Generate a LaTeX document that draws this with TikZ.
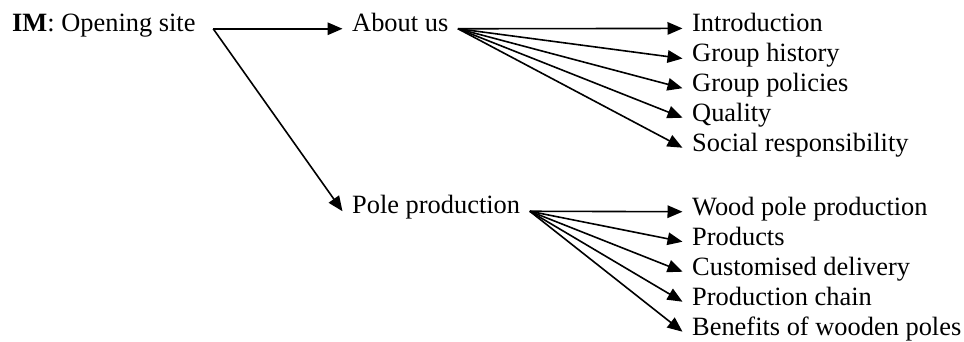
\documentclass[tikz,border=0pt]{standalone}
\usepackage{fontspec}
\setmainfont{Liberation Serif}
\usetikzlibrary{arrows.meta}

\begin{document}
\begin{tikzpicture}[
  x=1bp, y=-1bp,
  every node/.style={inner ysep=0pt, inner xsep=9.5bp,
    font=\fontsize{26.4bp}{30bp}\selectfont},
  srcbox/.style={anchor=base west, text height=0.66em, text depth=0.21em},
  leafbox/.style={anchor=base west, text height=0.66em, text depth=0pt},
  arr/.style={line width=1.6bp, -{Triangle[length=15bp,width=12.5bp]}}
]
\useasboundingbox (0,0) rectangle (964,341);

% top-level page and its two sections
\node[srcbox] (im)    at (2.5,31)   {\textbf{IM}: Opening site};
\node[srcbox] (about) at (342.5,31) {About us};
\node[srcbox] (pole)  at (342.5,213.5) {Pole production};

% pages under "About us"
\node[leafbox] (intro)   at (682.5,31.7)  {Introduction};
\node[leafbox] (history) at (682.5,61.8)  {Group history};
\node[leafbox] (policy)  at (682.5,91.5)  {Group policies};
\node[leafbox] (quality) at (682.5,121)   {Quality};
\node[leafbox] (social)  at (682.5,151)   {Social responsibility};

% pages under "Pole production"
\node[leafbox] (wood)     at (682.5,215) {Wood pole production};
\node[leafbox] (products) at (682.5,245) {Products};
\node[leafbox] (delivery) at (682.5,275) {Customised delivery};
\node[leafbox] (chain)    at (682.5,305) {Production chain};
\node[leafbox] (benefits) at (682.5,335) {Benefits of wooden poles};

% links from the opening site
\coordinate (imout) at ([xshift=8bp]im.east);
\draw[arr] (imout) -- (about.west);
\draw[arr] (imout) -- (pole.west);

% fan-out from each section
\foreach \leaf in {intro,history,policy,quality,social}
  \draw[arr] (about.east) -- (\leaf.west);
\foreach \leaf in {wood,products,delivery,chain,benefits}
  \draw[arr] (pole.east) -- (\leaf.west);
\end{tikzpicture}
\end{document}
